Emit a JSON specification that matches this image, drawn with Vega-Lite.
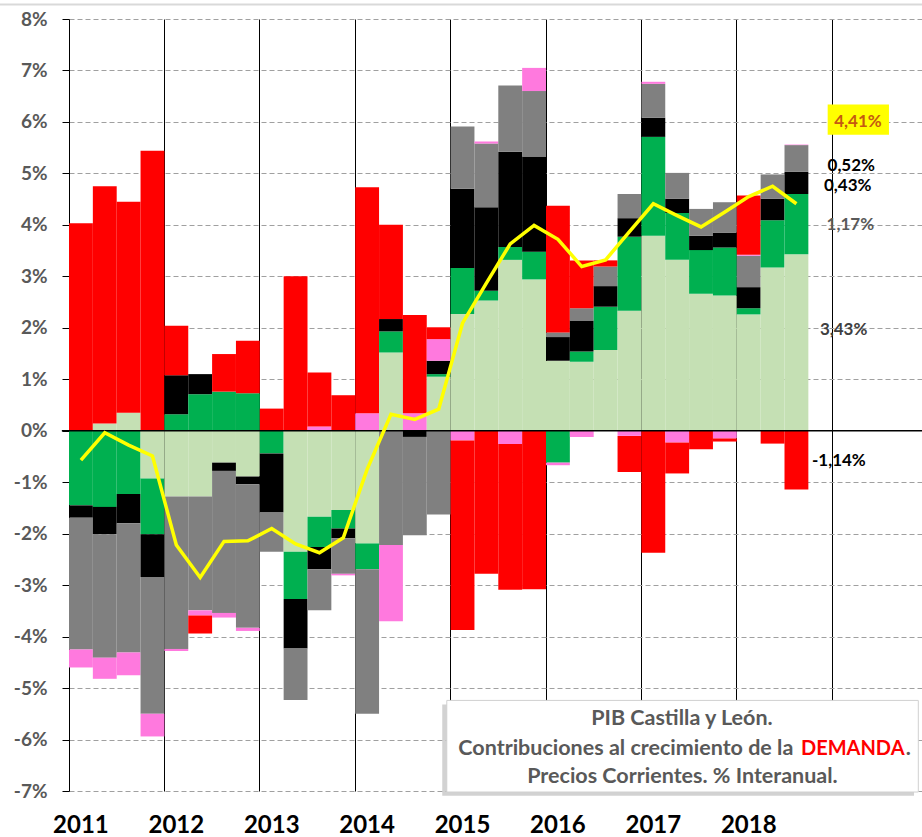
{
  "$schema": "https://vega.github.io/schema/vega-lite/v6.json",
  "width": 853,
  "height": 772,
  "autosize": "none",
  "padding": {"left": 69, "right": 0, "top": 19, "bottom": 46},
  "background": "white",
  "config": {"view": {"stroke": null}, "font": "Lato", "text": {"font": "Lato", "fontWeight": "bold"}},
  "datasets": {
    "aportaciones": [
      {"trimestre": "2011-1", "componente": "Hogares", "valor": 0}, {"trimestre": "2011-1", "componente": "AAPP", "valor": -1.45}, {"trimestre": "2011-1", "componente": "Construcción", "valor": -0.24}, {"trimestre": "2011-1", "componente": "Equipo", "valor": -2.56}, {"trimestre": "2011-1", "componente": "Existencias", "valor": -0.35}, {"trimestre": "2011-1", "componente": "Exterior", "valor": 4.03},
      {"trimestre": "2011-2", "componente": "Hogares", "valor": 0.14}, {"trimestre": "2011-2", "componente": "AAPP", "valor": -1.48}, {"trimestre": "2011-2", "componente": "Construcción", "valor": -0.53}, {"trimestre": "2011-2", "componente": "Equipo", "valor": -2.40}, {"trimestre": "2011-2", "componente": "Existencias", "valor": -0.41}, {"trimestre": "2011-2", "componente": "Exterior", "valor": 4.61},
      {"trimestre": "2011-3", "componente": "Hogares", "valor": 0.35}, {"trimestre": "2011-3", "componente": "AAPP", "valor": -1.23}, {"trimestre": "2011-3", "componente": "Construcción", "valor": -0.57}, {"trimestre": "2011-3", "componente": "Equipo", "valor": -2.51}, {"trimestre": "2011-3", "componente": "Existencias", "valor": -0.44}, {"trimestre": "2011-3", "componente": "Exterior", "valor": 4.10},
      {"trimestre": "2011-4", "componente": "Hogares", "valor": -0.93}, {"trimestre": "2011-4", "componente": "AAPP", "valor": -1.08}, {"trimestre": "2011-4", "componente": "Construcción", "valor": -0.83}, {"trimestre": "2011-4", "componente": "Equipo", "valor": -2.66}, {"trimestre": "2011-4", "componente": "Existencias", "valor": -0.44}, {"trimestre": "2011-4", "componente": "Exterior", "valor": 5.44},
      {"trimestre": "2012-1", "componente": "Hogares", "valor": -1.28}, {"trimestre": "2012-1", "componente": "AAPP", "valor": 0.32}, {"trimestre": "2012-1", "componente": "Construcción", "valor": 0.76}, {"trimestre": "2012-1", "componente": "Equipo", "valor": -2.96}, {"trimestre": "2012-1", "componente": "Existencias", "valor": -0.04}, {"trimestre": "2012-1", "componente": "Exterior", "valor": 0.96},
      {"trimestre": "2012-2", "componente": "Hogares", "valor": -1.28}, {"trimestre": "2012-2", "componente": "AAPP", "valor": 0.71}, {"trimestre": "2012-2", "componente": "Construcción", "valor": 0.39}, {"trimestre": "2012-2", "componente": "Equipo", "valor": -2.21}, {"trimestre": "2012-2", "componente": "Existencias", "valor": -0.10}, {"trimestre": "2012-2", "componente": "Exterior", "valor": -0.35},
      {"trimestre": "2012-3", "componente": "Hogares", "valor": -0.62}, {"trimestre": "2012-3", "componente": "AAPP", "valor": 0.76}, {"trimestre": "2012-3", "componente": "Construcción", "valor": -0.16}, {"trimestre": "2012-3", "componente": "Equipo", "valor": -2.76}, {"trimestre": "2012-3", "componente": "Existencias", "valor": -0.09}, {"trimestre": "2012-3", "componente": "Exterior", "valor": 0.73},
      {"trimestre": "2012-4", "componente": "Hogares", "valor": -0.89}, {"trimestre": "2012-4", "componente": "AAPP", "valor": 0.73}, {"trimestre": "2012-4", "componente": "Construcción", "valor": -0.15}, {"trimestre": "2012-4", "componente": "Equipo", "valor": -2.79}, {"trimestre": "2012-4", "componente": "Existencias", "valor": -0.06}, {"trimestre": "2012-4", "componente": "Exterior", "valor": 1.02},
      {"trimestre": "2013-1", "componente": "Hogares", "valor": 0}, {"trimestre": "2013-1", "componente": "AAPP", "valor": -0.44}, {"trimestre": "2013-1", "componente": "Construcción", "valor": -1.15}, {"trimestre": "2013-1", "componente": "Equipo", "valor": -0.76}, {"trimestre": "2013-1", "componente": "Existencias", "valor": 0}, {"trimestre": "2013-1", "componente": "Exterior", "valor": 0.43},
      {"trimestre": "2013-2", "componente": "Hogares", "valor": -2.35}, {"trimestre": "2013-2", "componente": "AAPP", "valor": -0.92}, {"trimestre": "2013-2", "componente": "Construcción", "valor": -0.96}, {"trimestre": "2013-2", "componente": "Equipo", "valor": -1.00}, {"trimestre": "2013-2", "componente": "Existencias", "valor": 0}, {"trimestre": "2013-2", "componente": "Exterior", "valor": 3.00},
      {"trimestre": "2013-3", "componente": "Hogares", "valor": -1.67}, {"trimestre": "2013-3", "componente": "AAPP", "valor": -0.59}, {"trimestre": "2013-3", "componente": "Construcción", "valor": -0.43}, {"trimestre": "2013-3", "componente": "Equipo", "valor": -0.80}, {"trimestre": "2013-3", "componente": "Existencias", "valor": 0.08}, {"trimestre": "2013-3", "componente": "Exterior", "valor": 1.05},
      {"trimestre": "2013-4", "componente": "Hogares", "valor": -1.54}, {"trimestre": "2013-4", "componente": "AAPP", "valor": -0.36}, {"trimestre": "2013-4", "componente": "Construcción", "valor": -0.19}, {"trimestre": "2013-4", "componente": "Equipo", "valor": -0.69}, {"trimestre": "2013-4", "componente": "Existencias", "valor": -0.03}, {"trimestre": "2013-4", "componente": "Exterior", "valor": 0.69},
      {"trimestre": "2014-1", "componente": "Hogares", "valor": -2.19}, {"trimestre": "2014-1", "componente": "AAPP", "valor": -0.50}, {"trimestre": "2014-1", "componente": "Construcción", "valor": 0}, {"trimestre": "2014-1", "componente": "Equipo", "valor": -2.81}, {"trimestre": "2014-1", "componente": "Existencias", "valor": 0.34}, {"trimestre": "2014-1", "componente": "Exterior", "valor": 4.39},
      {"trimestre": "2014-2", "componente": "Hogares", "valor": 1.52}, {"trimestre": "2014-2", "componente": "AAPP", "valor": 0.41}, {"trimestre": "2014-2", "componente": "Construcción", "valor": 0.24}, {"trimestre": "2014-2", "componente": "Equipo", "valor": -2.22}, {"trimestre": "2014-2", "componente": "Existencias", "valor": -1.48}, {"trimestre": "2014-2", "componente": "Exterior", "valor": 1.83},
      {"trimestre": "2014-3", "componente": "Hogares", "valor": 0}, {"trimestre": "2014-3", "componente": "AAPP", "valor": 0}, {"trimestre": "2014-3", "componente": "Construcción", "valor": -0.12}, {"trimestre": "2014-3", "componente": "Equipo", "valor": -1.91}, {"trimestre": "2014-3", "componente": "Existencias", "valor": 0.34}, {"trimestre": "2014-3", "componente": "Exterior", "valor": 1.91},
      {"trimestre": "2014-4", "componente": "Hogares", "valor": 1.05}, {"trimestre": "2014-4", "componente": "AAPP", "valor": 0.05}, {"trimestre": "2014-4", "componente": "Construcción", "valor": 0.26}, {"trimestre": "2014-4", "componente": "Equipo", "valor": -1.63}, {"trimestre": "2014-4", "componente": "Existencias", "valor": 0.42}, {"trimestre": "2014-4", "componente": "Exterior", "valor": 0.23},
      {"trimestre": "2015-1", "componente": "Hogares", "valor": 2.27}, {"trimestre": "2015-1", "componente": "AAPP", "valor": 0.89}, {"trimestre": "2015-1", "componente": "Construcción", "valor": 1.54}, {"trimestre": "2015-1", "componente": "Equipo", "valor": 1.21}, {"trimestre": "2015-1", "componente": "Existencias", "valor": -0.19}, {"trimestre": "2015-1", "componente": "Exterior", "valor": -3.68},
      {"trimestre": "2015-2", "componente": "Hogares", "valor": 2.53}, {"trimestre": "2015-2", "componente": "AAPP", "valor": 0.19}, {"trimestre": "2015-2", "componente": "Construcción", "valor": 1.62}, {"trimestre": "2015-2", "componente": "Equipo", "valor": 1.24}, {"trimestre": "2015-2", "componente": "Existencias", "valor": 0.04}, {"trimestre": "2015-2", "componente": "Exterior", "valor": -2.78},
      {"trimestre": "2015-3", "componente": "Hogares", "valor": 3.32}, {"trimestre": "2015-3", "componente": "AAPP", "valor": 0.25}, {"trimestre": "2015-3", "componente": "Construcción", "valor": 1.85}, {"trimestre": "2015-3", "componente": "Equipo", "valor": 1.29}, {"trimestre": "2015-3", "componente": "Existencias", "valor": -0.26}, {"trimestre": "2015-3", "componente": "Exterior", "valor": -2.83},
      {"trimestre": "2015-4", "componente": "Hogares", "valor": 2.94}, {"trimestre": "2015-4", "componente": "AAPP", "valor": 0.54}, {"trimestre": "2015-4", "componente": "Construcción", "valor": 1.85}, {"trimestre": "2015-4", "componente": "Equipo", "valor": 1.27}, {"trimestre": "2015-4", "componente": "Existencias", "valor": 0.45}, {"trimestre": "2015-4", "componente": "Exterior", "valor": -3.08},
      {"trimestre": "2016-1", "componente": "Hogares", "valor": 1.36}, {"trimestre": "2016-1", "componente": "AAPP", "valor": -0.62}, {"trimestre": "2016-1", "componente": "Construcción", "valor": 0.46}, {"trimestre": "2016-1", "componente": "Equipo", "valor": 0.09}, {"trimestre": "2016-1", "componente": "Existencias", "valor": -0.05}, {"trimestre": "2016-1", "componente": "Exterior", "valor": 2.46},
      {"trimestre": "2016-2", "componente": "Hogares", "valor": 1.34}, {"trimestre": "2016-2", "componente": "AAPP", "valor": 0.20}, {"trimestre": "2016-2", "componente": "Construcción", "valor": 0.60}, {"trimestre": "2016-2", "componente": "Equipo", "valor": 0.24}, {"trimestre": "2016-2", "componente": "Existencias", "valor": -0.12}, {"trimestre": "2016-2", "componente": "Exterior", "valor": 0.93},
      {"trimestre": "2016-3", "componente": "Hogares", "valor": 1.57}, {"trimestre": "2016-3", "componente": "AAPP", "valor": 0.84}, {"trimestre": "2016-3", "componente": "Construcción", "valor": 0.40}, {"trimestre": "2016-3", "componente": "Equipo", "valor": 0.38}, {"trimestre": "2016-3", "componente": "Existencias", "valor": 0}, {"trimestre": "2016-3", "componente": "Exterior", "valor": 0.12},
      {"trimestre": "2016-4", "componente": "Hogares", "valor": 2.33}, {"trimestre": "2016-4", "componente": "AAPP", "valor": 1.44}, {"trimestre": "2016-4", "componente": "Construcción", "valor": 0.36}, {"trimestre": "2016-4", "componente": "Equipo", "valor": 0.47}, {"trimestre": "2016-4", "componente": "Existencias", "valor": -0.10}, {"trimestre": "2016-4", "componente": "Exterior", "valor": -0.70},
      {"trimestre": "2017-1", "componente": "Hogares", "valor": 3.79}, {"trimestre": "2017-1", "componente": "AAPP", "valor": 1.92}, {"trimestre": "2017-1", "componente": "Construcción", "valor": 0.37}, {"trimestre": "2017-1", "componente": "Equipo", "valor": 0.66}, {"trimestre": "2017-1", "componente": "Existencias", "valor": 0.04}, {"trimestre": "2017-1", "componente": "Exterior", "valor": -2.37},
      {"trimestre": "2017-2", "componente": "Hogares", "valor": 3.32}, {"trimestre": "2017-2", "componente": "AAPP", "valor": 0.91}, {"trimestre": "2017-2", "componente": "Construcción", "valor": 0.28}, {"trimestre": "2017-2", "componente": "Equipo", "valor": 0.50}, {"trimestre": "2017-2", "componente": "Existencias", "valor": -0.23}, {"trimestre": "2017-2", "componente": "Exterior", "valor": -0.60},
      {"trimestre": "2017-3", "componente": "Hogares", "valor": 2.66}, {"trimestre": "2017-3", "componente": "AAPP", "valor": 0.85}, {"trimestre": "2017-3", "componente": "Construcción", "valor": 0.28}, {"trimestre": "2017-3", "componente": "Equipo", "valor": 0.52}, {"trimestre": "2017-3", "componente": "Existencias", "valor": 0}, {"trimestre": "2017-3", "componente": "Exterior", "valor": -0.36},
      {"trimestre": "2017-4", "componente": "Hogares", "valor": 2.63}, {"trimestre": "2017-4", "componente": "AAPP", "valor": 0.93}, {"trimestre": "2017-4", "componente": "Construcción", "valor": 0.29}, {"trimestre": "2017-4", "componente": "Equipo", "valor": 0.59}, {"trimestre": "2017-4", "componente": "Existencias", "valor": -0.15}, {"trimestre": "2017-4", "componente": "Exterior", "valor": -0.06},
      {"trimestre": "2018-1", "componente": "Hogares", "valor": 2.26}, {"trimestre": "2018-1", "componente": "AAPP", "valor": 0.12}, {"trimestre": "2018-1", "componente": "Construcción", "valor": 0.41}, {"trimestre": "2018-1", "componente": "Equipo", "valor": 0.61}, {"trimestre": "2018-1", "componente": "Existencias", "valor": 0.02}, {"trimestre": "2018-1", "componente": "Exterior", "valor": 1.15},
      {"trimestre": "2018-2", "componente": "Hogares", "valor": 3.17}, {"trimestre": "2018-2", "componente": "AAPP", "valor": 0.92}, {"trimestre": "2018-2", "componente": "Construcción", "valor": 0.42}, {"trimestre": "2018-2", "componente": "Equipo", "valor": 0.47}, {"trimestre": "2018-2", "componente": "Existencias", "valor": 0}, {"trimestre": "2018-2", "componente": "Exterior", "valor": -0.25},
      {"trimestre": "2018-3", "componente": "Hogares", "valor": 3.43}, {"trimestre": "2018-3", "componente": "AAPP", "valor": 1.17}, {"trimestre": "2018-3", "componente": "Construcción", "valor": 0.43}, {"trimestre": "2018-3", "componente": "Equipo", "valor": 0.52}, {"trimestre": "2018-3", "componente": "Existencias", "valor": 0.01}, {"trimestre": "2018-3", "componente": "Exterior", "valor": -1.14}
    ],
    "componentes": [
      {"componente": "Hogares", "orden": 1},
      {"componente": "AAPP", "orden": 2},
      {"componente": "Construcción", "orden": 3},
      {"componente": "Equipo", "orden": 4},
      {"componente": "Existencias", "orden": 5},
      {"componente": "Exterior", "orden": 6}
    ],
    "pib": [
      {"trimestre": "2011-1", "pib": -0.57}, {"trimestre": "2011-2", "pib": -0.04}, {"trimestre": "2011-3", "pib": -0.28}, {"trimestre": "2011-4", "pib": -0.49},
      {"trimestre": "2012-1", "pib": -2.22}, {"trimestre": "2012-2", "pib": -2.85}, {"trimestre": "2012-3", "pib": -2.15}, {"trimestre": "2012-4", "pib": -2.14},
      {"trimestre": "2013-1", "pib": -1.90}, {"trimestre": "2013-2", "pib": -2.20}, {"trimestre": "2013-3", "pib": -2.37}, {"trimestre": "2013-4", "pib": -2.08},
      {"trimestre": "2014-1", "pib": -0.75}, {"trimestre": "2014-2", "pib": 0.32}, {"trimestre": "2014-3", "pib": 0.22}, {"trimestre": "2014-4", "pib": 0.42},
      {"trimestre": "2015-1", "pib": 2.09}, {"trimestre": "2015-2", "pib": 2.87}, {"trimestre": "2015-3", "pib": 3.63}, {"trimestre": "2015-4", "pib": 3.99},
      {"trimestre": "2016-1", "pib": 3.72}, {"trimestre": "2016-2", "pib": 3.19}, {"trimestre": "2016-3", "pib": 3.32}, {"trimestre": "2016-4", "pib": 3.87},
      {"trimestre": "2017-1", "pib": 4.41}, {"trimestre": "2017-2", "pib": 4.18}, {"trimestre": "2017-3", "pib": 3.96}, {"trimestre": "2017-4", "pib": 4.25},
      {"trimestre": "2018-1", "pib": 4.55}, {"trimestre": "2018-2", "pib": 4.75}, {"trimestre": "2018-3", "pib": 4.41}
    ]
  },
  "layer": [
    {
      "data": {"name": "aportaciones"},
      "transform": [
        {"lookup": "componente", "from": {"data": {"name": "componentes"}, "key": "componente", "fields": ["orden"]}}
      ],
      "mark": {"type": "bar"},
      "encoding": {
        "x": {
          "field": "trimestre", "type": "ordinal",
          "scale": {
            "domain": ["2011-1","2011-2","2011-3","2011-4","2012-1","2012-2","2012-3","2012-4","2013-1","2013-2","2013-3","2013-4","2014-1","2014-2","2014-3","2014-4","2015-1","2015-2","2015-3","2015-4","2016-1","2016-2","2016-3","2016-4","2017-1","2017-2","2017-3","2017-4","2018-1","2018-2","2018-3","2018-4","2019-1","2019-2","2019-3"],
            "paddingInner": 0, "paddingOuter": 0.3825, "align": 0
          },
          "axis": {
            "orient": "bottom",
            "values": ["2011-1","2012-1","2013-1","2014-1","2015-1","2016-1","2017-1","2018-1"],
            "labelExpr": "substring(datum.label, 0, 4)",
            "labelFont": "Lato", "labelFontWeight": "bold", "labelFontSize": 24, "labelColor": "black",
            "labelPadding": 22, "labelAngle": 0, "ticks": false, "domain": false, "grid": false, "title": null
          }
        },
        "y": {
          "field": "valor", "type": "quantitative", "stack": "zero",
          "scale": {"domain": [-7, 8], "nice": false, "zero": false},
          "axis": {
            "values": [-7,-6.5,-6,-5.5,-5,-4.5,-4,-3.5,-3,-2.5,-2,-1.5,-1,-0.5,0,0.5,1,1.5,2,2.5,3,3.5,4,4.5,5,5.5,6,6.5,7,7.5,8],
            "labelExpr": "datum.value % 1 === 0 ? datum.value + '%' : ''",
            "labelOverlap": false,
            "labelFont": "Lato", "labelFontWeight": "bold", "labelFontSize": 19, "labelColor": "#595959",
            "labelPadding": 15,
            "tickColor": "black", "tickSize": 7, "domainColor": "black", "domainWidth": 1,
            "grid": true, "gridColor": "#a0a0a0", "gridDash": [5, 3], "gridWidth": 1,
            "gridOpacity": {"condition": {"test": "datum.value % 1 !== 0 || datum.value === 0", "value": 0}, "value": 1},
            "title": null
          }
        },
        "color": {
          "field": "componente", "type": "nominal",
          "scale": {
            "domain": ["Hogares", "AAPP", "Construcción", "Equipo", "Existencias", "Exterior"],
            "range": ["#c5e0b4", "#00b050", "#000000", "#808080", "#ff79de", "#ff0000"]
          },
          "legend": null
        },
        "order": {"field": "orden", "type": "quantitative", "sort": "ascending"}
      }
    },
    {
      "data": {"values": [{}]},
      "mark": {"type": "rule", "color": "black", "strokeWidth": 1.5},
      "encoding": {
        "x": {"datum": "2011-1", "type": "ordinal", "bandPosition": -0.3, "axis": null},
        "x2": {"datum": "2019-3", "bandPosition": 1.8},
        "y": {"datum": 0, "type": "quantitative"}
      }
    },
    {
      "data": {"values": [{}]},
      "mark": {"type": "rule", "color": "#d9d9d9", "strokeWidth": 2},
      "encoding": {
        "x": {"datum": "2011-1", "type": "ordinal", "bandPosition": -2.9, "axis": null},
        "x2": {"datum": "2019-3", "bandPosition": 1.8},
        "y": {"datum": 8.28, "type": "quantitative"}
      }
    },
    {
      "data": {"name": "pib"},
      "mark": {"type": "line", "color": "#ffff00", "strokeWidth": 3.5},
      "encoding": {
        "x": {
          "field": "trimestre", "type": "ordinal",
          "axis": {
            "orient": "top",
            "values": ["2012-1","2013-1","2014-1","2015-1","2016-1","2017-1","2018-1","2019-1"],
            "bandPosition": 0, "grid": true, "gridColor": "black", "gridWidth": 1,
            "labels": false, "ticks": false, "domain": false, "title": null
          }
        },
        "y": {"field": "pib", "type": "quantitative"}
      }
    },
    {
      "data": {"values": [{}]},
      "mark": {"type": "rect", "color": "#ffff00"},
      "encoding": {
        "x": {"datum": "2018-4", "type": "ordinal", "bandPosition": 0.81, "axis": null},
        "x2": {"datum": "2019-3", "bandPosition": 0.38},
        "y": {"datum": 6.34, "type": "quantitative"},
        "y2": {"datum": 5.75}
      }
    },
    {
      "data": {"values": [{}]},
      "mark": {"type": "text", "text": "4,41%", "color": "#c55a11", "fontSize": 17, "align": "center", "baseline": "alphabetic"},
      "encoding": {
        "x": {"datum": "2019-2", "type": "ordinal", "bandPosition": 0.08, "axis": null},
        "y": {"datum": 5.90, "type": "quantitative"}
      }
    },
    {
      "data": {"values": [{}]},
      "mark": {"type": "text", "text": "0,52%", "color": "black", "fontSize": 17, "align": "center", "baseline": "alphabetic"},
      "encoding": {
        "x": {"datum": "2019-1", "type": "ordinal", "bandPosition": 0.80, "axis": null},
        "y": {"datum": 5.05, "type": "quantitative"}
      }
    },
    {
      "data": {"values": [{}]},
      "mark": {"type": "text", "text": "0,43%", "color": "black", "fontSize": 17, "align": "center", "baseline": "alphabetic"},
      "encoding": {
        "x": {"datum": "2019-1", "type": "ordinal", "bandPosition": 0.65, "axis": null},
        "y": {"datum": 4.65, "type": "quantitative"}
      }
    },
    {
      "data": {"values": [{}]},
      "mark": {"type": "text", "text": "1,17%", "color": "#595959", "fontSize": 17, "align": "center", "baseline": "alphabetic"},
      "encoding": {
        "x": {"datum": "2019-1", "type": "ordinal", "bandPosition": 0.76, "axis": null},
        "y": {"datum": 3.90, "type": "quantitative"}
      }
    },
    {
      "data": {"values": [{}]},
      "mark": {"type": "text", "text": "3,43%", "color": "#404040", "fontSize": 17, "align": "center", "baseline": "alphabetic"},
      "encoding": {
        "x": {"datum": "2019-1", "type": "ordinal", "bandPosition": 0.48, "axis": null},
        "y": {"datum": 1.86, "type": "quantitative"}
      }
    },
    {
      "data": {"values": [{}]},
      "mark": {"type": "text", "text": "-1,14%", "color": "black", "fontSize": 17, "align": "center", "baseline": "alphabetic"},
      "encoding": {
        "x": {"datum": "2019-1", "type": "ordinal", "bandPosition": 0.28, "axis": null},
        "y": {"datum": -0.68, "type": "quantitative"}
      }
    },
    {
      "data": {"values": [{}]},
      "mark": {"type": "rect", "color": "#bfbfbf", "opacity": 0.7},
      "encoding": {
        "x": {"datum": "2014-4", "type": "ordinal", "bandPosition": 0.65, "axis": null},
        "x2": {"datum": "2019-3", "bandPosition": 1.43},
        "y": {"datum": -5.32, "type": "quantitative"},
        "y2": {"datum": -7.09}
      }
    },
    {
      "data": {"values": [{}]},
      "mark": {"type": "rect", "fill": "white", "stroke": "#d0d0d0", "strokeWidth": 1},
      "encoding": {
        "x": {"datum": "2014-4", "type": "ordinal", "bandPosition": 0.84, "axis": null},
        "x2": {"datum": "2019-3", "bandPosition": 1.61},
        "y": {"datum": -5.24, "type": "quantitative"},
        "y2": {"datum": -7.02}
      }
    },
    {
      "data": {"values": [{}]},
      "mark": {"type": "text", "text": "PIB Castilla y León.", "color": "#595959", "fontSize": 21.5, "align": "center", "baseline": "alphabetic"},
      "encoding": {
        "x": {"datum": "2017-2", "type": "ordinal", "bandPosition": 0.70, "axis": null},
        "y": {"datum": -5.726, "type": "quantitative"}
      }
    },
    {
      "data": {"values": [{}]},
      "mark": {"type": "text", "text": "Contribuciones al crecimiento de la", "color": "#595959", "fontSize": 21.5, "align": "right", "baseline": "alphabetic"},
      "encoding": {
        "x": {"datum": "2018-3", "type": "ordinal", "bandPosition": 0.37, "axis": null},
        "y": {"datum": -6.296, "type": "quantitative"}
      }
    },
    {
      "data": {"values": [{}]},
      "mark": {"type": "text", "text": "DEMANDA", "color": "#ff0000", "fontSize": 20, "align": "left", "baseline": "alphabetic"},
      "encoding": {
        "x": {"datum": "2018-3", "type": "ordinal", "bandPosition": 0.69, "axis": null},
        "y": {"datum": -6.296, "type": "quantitative"}
      }
    },
    {
      "data": {"values": [{}]},
      "mark": {"type": "text", "text": ".", "color": "#595959", "fontSize": 21.5, "align": "left", "baseline": "alphabetic"},
      "encoding": {
        "x": {"datum": "2019-3", "type": "ordinal", "bandPosition": 1.08, "axis": null},
        "y": {"datum": -6.296, "type": "quantitative"}
      }
    },
    {
      "data": {"values": [{}]},
      "mark": {"type": "text", "text": "Precios Corrientes. % Interanual.", "color": "#595959", "fontSize": 21.5, "align": "center", "baseline": "alphabetic"},
      "encoding": {
        "x": {"datum": "2017-2", "type": "ordinal", "bandPosition": 0.72, "axis": null},
        "y": {"datum": -6.84, "type": "quantitative"}
      }
    }
  ],
  "resolve": {"axis": {"x": "independent"}}
}
